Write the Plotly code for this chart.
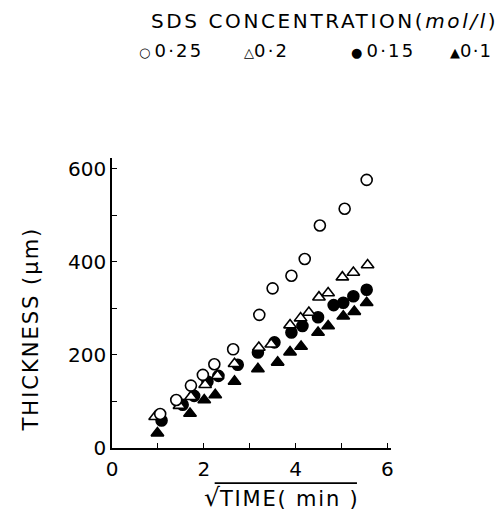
import plotly.graph_objects as go

# sqrt(time) in min^0.5, thickness in um, per SDS concentration (mol/l)
x_025 = [1.05, 1.40, 1.72, 1.98, 2.23, 2.64, 3.21, 3.50, 3.91, 4.20, 4.53, 5.07, 5.55]
y_025 = [73, 103, 134, 157, 180, 212, 286, 343, 370, 406, 478, 514, 576]

x_02 = [0.94, 1.47, 1.72, 2.03, 2.30, 2.67, 3.20, 3.47, 3.88, 4.11, 4.29, 4.51, 4.71, 5.02, 5.26, 5.57]
y_02 = [67, 91, 110, 136, 155, 181, 216, 223, 264, 279, 291, 324, 333, 367, 377, 393]

x_015 = [1.08, 1.54, 1.79, 2.08, 2.32, 2.74, 3.18, 3.54, 3.91, 4.15, 4.49, 4.83, 5.04, 5.26, 5.55]
y_015 = [59, 93, 112, 143, 155, 179, 205, 227, 248, 262, 281, 307, 312, 326, 340]

x_01 = [0.99, 1.70, 2.01, 2.25, 2.67, 3.18, 3.61, 3.88, 4.12, 4.49, 4.71, 5.04, 5.28, 5.55]
y_01 = [32, 74, 103, 114, 143, 170, 184, 206, 218, 248, 262, 283, 293, 312]

series = [
    ('0.1', x_01, y_01, 'triangle-up', 'black', 11),
    ('0.15', x_015, y_015, 'circle', 'black', 11),
    ('0.2', x_02, y_02, 'triangle-up', 'white', 11),
    ('0.25', x_025, y_025, 'circle', 'white', 11),
]

FONT = 'DejaVu Sans'


def spaced(txt, ls):
    return f"<span style='letter-spacing:{ls}px'>{txt}</span>"


fig = go.Figure()
for name, xs, ys, sym, fill, size in series:
    fig.add_trace(go.Scatter(
        x=xs, y=ys, mode='markers', name=name,
        marker=dict(symbol=sym, color=fill, size=size,
                    line=dict(color='black', width=1.6)),
    ))

fig.update_layout(
    width=504, height=513,
    margin=dict(l=104, r=121, t=150, b=73),
    paper_bgcolor='white', plot_bgcolor='white',
    showlegend=False,
    font=dict(family=FONT, color='black', size=20),
)

fig.update_xaxes(
    range=[0, 6.08], tickvals=[0, 2, 4, 6], ticktext=['0', '2', '4', '6'],
    ticks='inside', ticklen=5, tickwidth=1.3, tickcolor='black',
    minor=dict(dtick=1, ticks='inside', ticklen=5, tickwidth=1.3, tickcolor='black'),
    showline=True, linecolor='black', linewidth=1.5, showgrid=False, zeroline=False,
    tickfont=dict(size=20), ticklabelstandoff=2,
)
fig.update_yaxes(
    range=[0, 623], tickvals=[0, 200, 400, 600],
    ticks='inside', ticklen=5, tickwidth=1.3, tickcolor='black',
    minor=dict(dtick=100, ticks='inside', ticklen=5, tickwidth=1.3, tickcolor='black'),
    showline=True, linecolor='black', linewidth=1.5, showgrid=False, zeroline=False,
    tickfont=dict(size=20),
)

# axis titles (x title: square root sign with a bar over the text)
fig.add_annotation(
    text="<span style='font-size:25px'>√</span>" + spaced('TIME( min )', 1.8),
    xref='paper', yref='paper', x=0.606, y=-0.169, xanchor='center', yanchor='middle',
    showarrow=False, font=dict(size=21),
)
fig.add_shape(type='line', xref='paper', yref='paper',
              x0=0.368, x1=0.878, y0=-0.121, y1=-0.121,
              line=dict(color='black', width=1.6))
fig.add_annotation(
    text=spaced('THICKNESS (μm)', 2), textangle=-90,
    xref='paper', yref='paper', x=-0.289, y=0.41, xanchor='center', yanchor='middle',
    showarrow=False, font=dict(size=21),
)

fig.add_annotation(
    text=spaced('SDS CONCENTRATION(<i>mol/l</i>)', 2.6), xref='paper', yref='paper',
    x=0.76, y=1.472, xanchor='center', yanchor='middle', showarrow=False,
    font=dict(size=20),
)
legend_items = [('○ ', '0·25', 0.09, 2.2), ('△', '0·2', 0.467, 2.2),
                ('● ', '0·15', 0.85, 2.2), ('▲', '0·1', 1.205, 1.2)]
for sym, lab, xp, ls in legend_items:
    fig.add_annotation(
        text=f"<span style='font-size:13px'>{sym}</span>" + spaced(lab, ls),
        xref='paper', yref='paper',
        x=xp, y=1.372, xanchor='left', yanchor='middle', showarrow=False,
        font=dict(size=18),
    )

fig.write_html('out.html')
